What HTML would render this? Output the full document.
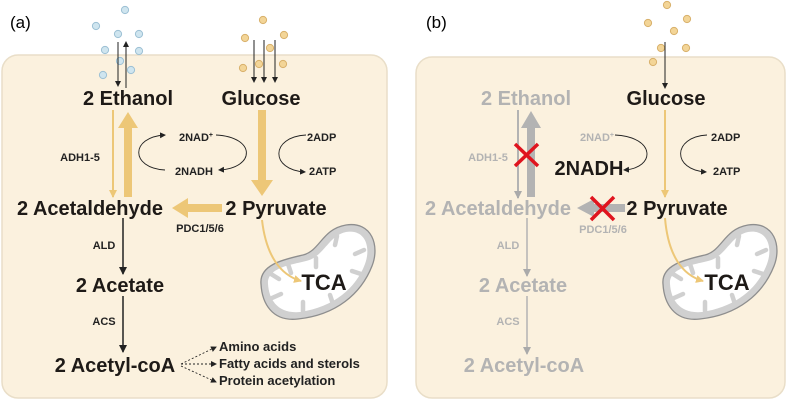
<!DOCTYPE html>
<html><head><meta charset="utf-8"><style>
html,body{margin:0;padding:0;background:#fff;}
svg{display:block;font-family:"Liberation Sans",Arial,sans-serif;}
.big{font-size:20px;font-weight:bold;}
.sm{font-size:11px;font-weight:bold;}
.md{font-size:13px;font-weight:bold;}
</style></head><body>
<svg width="787" height="402" viewBox="0 0 787 402" xmlns="http://www.w3.org/2000/svg">
<defs>
<marker id="ak" markerWidth="6" markerHeight="6" refX="5" refY="3" orient="auto" markerUnits="userSpaceOnUse"><path d="M0,0 L6,3 L0,6 Z" fill="#222"/></marker>
<marker id="ag" markerWidth="8" markerHeight="8" refX="7" refY="4" orient="auto" markerUnits="userSpaceOnUse"><path d="M0,0 L8,4 L0,8 Z" fill="#aaa"/></marker>
<marker id="ay" markerWidth="8" markerHeight="8" refX="7" refY="4" orient="auto" markerUnits="userSpaceOnUse"><path d="M0,0 L8,4 L0,8 Z" fill="#edc777"/></marker>
<marker id="ak2" markerWidth="8" markerHeight="8" refX="7" refY="4" orient="auto" markerUnits="userSpaceOnUse"><path d="M0,0 L8,4 L0,8 Z" fill="#222"/></marker>
<g id="mito">
<path d="M261,284 C259,264 286,259 303,255 C320,251 322,229 346,225 C372,221 380,246 372,266 C361,294 336,315 298,319 C272,322 262,303 261,284 Z" fill="#d0d0d0" stroke="#8e8e8e" stroke-width="1.3"/>
<path d="M268,284 C267,268 290,265 306,261 C324,257 328,236 346,232 C366,229 371,248 365,264 C356,288 334,307 300,312 C278,314 269,300 268,284 Z" fill="#fff"/>
<g stroke="#d0d0d0" stroke-width="4.5" stroke-linecap="round">
<line x1="288" y1="264" x2="291" y2="273"/><line x1="316" y1="258" x2="316" y2="267"/><line x1="337" y1="236" x2="335" y2="245"/><line x1="364" y1="250" x2="355" y2="254"/><line x1="361" y1="274" x2="352" y2="271"/><line x1="333" y1="304" x2="330" y2="295"/><line x1="303" y1="311" x2="303" y2="302"/><line x1="272" y1="298" x2="281" y2="294"/><line x1="271" y1="274" x2="279" y2="279"/>
</g>
</g>
</defs>

<!-- Panel A -->
<text x="10" y="28" font-size="17">(a)</text>
<rect x="2" y="55" width="385" height="343" rx="16" fill="#fbf1de" stroke="#e9dec8" stroke-width="1.5"/>
<g fill="#cfe5ef" stroke="#9cc0d4" stroke-width="1">
<circle cx="125" cy="10" r="3.6"/><circle cx="96" cy="26" r="3.6"/><circle cx="118" cy="34" r="3.6"/><circle cx="139" cy="34" r="3.6"/><circle cx="105" cy="50" r="3.6"/><circle cx="139" cy="51" r="3.6"/><circle cx="120" cy="61" r="3.6"/><circle cx="131" cy="70" r="3.6"/><circle cx="103" cy="75" r="3.6"/>
</g>
<line x1="118" y1="42" x2="118" y2="86" stroke="#222" stroke-width="1" marker-end="url(#ak)"/>
<line x1="126" y1="88" x2="126" y2="42" stroke="#222" stroke-width="1" marker-end="url(#ak)"/>
<g fill="#f3d597" stroke="#d8b06a" stroke-width="1">
<circle cx="263" cy="20" r="3.6"/><circle cx="284" cy="35" r="3.6"/><circle cx="245" cy="38" r="3.6"/><circle cx="270" cy="48" r="3.6"/><circle cx="259" cy="64" r="3.6"/><circle cx="283" cy="64" r="3.6"/><circle cx="243" cy="68" r="3.6"/>
</g>
<g stroke="#222" stroke-width="1"><line x1="254" y1="40" x2="254" y2="82" marker-end="url(#ak)"/><line x1="264" y1="40" x2="264" y2="82" marker-end="url(#ak)"/><line x1="275" y1="40" x2="275" y2="82" marker-end="url(#ak)"/></g>

<text x="128" y="105" class="big" text-anchor="middle" fill="#1e1a17">2 Ethanol</text>
<text x="261" y="105" class="big" text-anchor="middle" fill="#1e1a17">Glucose</text>
<line x1="113" y1="110" x2="113" y2="197" stroke="#edc777" stroke-width="2" marker-end="url(#ay)"/>
<path d="M124,197 L124,128 L118,128 L128,112 L138,128 L132,128 L132,197 Z" fill="#edc777"/>
<text x="80" y="161" class="sm" text-anchor="middle" fill="#222">ADH1-5</text>
<path d="M258,110 L266,110 L266,180 L273,180 L262,196 L251,180 L258,180 Z" fill="#edc777"/>
<path d="M165,170 C130,168 130,137 165,135" fill="none" stroke="#222" stroke-width="0.9" marker-end="url(#ak)"/>
<path d="M216,135 C256,137 256,168 219,170" fill="none" stroke="#222" stroke-width="0.9" marker-end="url(#ak)"/>
<text x="196" y="141" class="sm" text-anchor="middle" fill="#222">2NAD<tspan font-size="7" dy="-4">+</tspan></text>
<text x="194" y="175" class="sm" text-anchor="middle" fill="#222">2NADH</text>
<path d="M306,135 C270,137 270,170 305,172" fill="none" stroke="#222" stroke-width="0.9" marker-end="url(#ak)"/>
<text x="307" y="141" class="sm" fill="#222">2ADP</text>
<text x="309" y="175" class="sm" fill="#222">2ATP</text>

<text x="90" y="215" class="big" text-anchor="middle" fill="#1e1a17">2 Acetaldehyde</text>
<text x="276" y="215" class="big" text-anchor="middle" fill="#1e1a17">2 Pyruvate</text>
<path d="M222,204 L188,204 L188,198 L172,208 L188,218 L188,212 L222,212 Z" fill="#edc777"/>
<text x="200" y="232" class="sm" text-anchor="middle" fill="#222">PDC1/5/6</text>
<use href="#mito"/>
<path d="M262,220 C266,255 280,275 301,281" fill="none" stroke="#edc777" stroke-width="2" marker-end="url(#ay)"/>
<text x="324" y="290" font-size="22" font-weight="bold" text-anchor="middle" fill="#1e1a17">TCA</text>

<text x="104" y="249" class="sm" text-anchor="middle" fill="#222">ALD</text>
<line x1="123" y1="218" x2="123" y2="274" stroke="#222" stroke-width="1.5" marker-end="url(#ak2)"/>
<text x="120" y="292" class="big" text-anchor="middle" fill="#1e1a17">2 Acetate</text>
<text x="104" y="325" class="sm" text-anchor="middle" fill="#222">ACS</text>
<line x1="123" y1="296" x2="123" y2="352" stroke="#222" stroke-width="1.5" marker-end="url(#ak2)"/>
<text x="115" y="372" class="big" text-anchor="middle" fill="#1e1a17">2 Acetyl-coA</text>
<g stroke="#222" stroke-width="0.9" stroke-dasharray="2,2">
<line x1="181" y1="364" x2="216" y2="347" marker-end="url(#ak)"/>
<line x1="181" y1="364" x2="216" y2="364" marker-end="url(#ak)"/>
<line x1="181" y1="366" x2="216" y2="382" marker-end="url(#ak)"/>
</g>
<text x="219" y="351" class="md" fill="#222">Amino acids</text>
<text x="219" y="368" class="md" fill="#222">Fatty acids and sterols</text>
<text x="219" y="385" class="md" fill="#222">Protein acetylation</text>

<!-- Panel B -->
<text x="426" y="28" font-size="17">(b)</text>
<rect x="416" y="57" width="369" height="341" rx="16" fill="#fbf1de" stroke="#e9dec8" stroke-width="1.5"/>
<g fill="#f3d597" stroke="#d8b06a" stroke-width="1">
<circle cx="667" cy="5" r="3.6"/><circle cx="687" cy="19" r="3.6"/><circle cx="648" cy="23" r="3.6"/><circle cx="674" cy="31" r="3.6"/><circle cx="661" cy="48" r="3.6"/><circle cx="686" cy="48" r="3.6"/><circle cx="653" cy="62" r="3.6"/>
</g>
<line x1="665" y1="42" x2="665" y2="88" stroke="#222" stroke-width="1" marker-end="url(#ak)"/>
<text x="526" y="105" class="big" text-anchor="middle" fill="#b3b3b3">2 Ethanol</text>
<text x="666" y="105" class="big" text-anchor="middle" fill="#1e1a17">Glucose</text>
<line x1="518" y1="110" x2="518" y2="198" stroke="#b3b3b3" stroke-width="2" marker-end="url(#ag)"/>
<path d="M527,197 L527,128 L521,128 L531,111 L541,128 L535,128 L535,197 Z" fill="#b3b3b3"/>
<text x="488" y="161" class="sm" text-anchor="middle" fill="#b3b3b3">ADH1-5</text>
<g stroke="#e0141e" stroke-width="3.5"><line x1="515" y1="144" x2="538" y2="166"/><line x1="538" y1="144" x2="515" y2="166"/></g>
<line x1="665" y1="110" x2="665" y2="197" stroke="#edc777" stroke-width="2" marker-end="url(#ay)"/>
<path d="M615,135 C656,137 656,168 624,170" fill="none" stroke="#222" stroke-width="0.9" marker-end="url(#ak)"/>
<text x="597" y="141" class="sm" text-anchor="middle" fill="#b3b3b3">2NAD<tspan font-size="7" dy="-4">+</tspan></text>
<text x="589" y="175" class="big" text-anchor="middle" fill="#1e1a17">2NADH</text>
<path d="M707,135 C672,137 672,170 706,172" fill="none" stroke="#222" stroke-width="0.9" marker-end="url(#ak)"/>
<text x="711" y="141" class="sm" fill="#222">2ADP</text>
<text x="713" y="175" class="sm" fill="#222">2ATP</text>

<text x="498" y="215" class="big" text-anchor="middle" fill="#b3b3b3">2 Acetaldehyde</text>
<text x="677" y="215" class="big" text-anchor="middle" fill="#1e1a17">2 Pyruvate</text>
<path d="M625,204 L594,204 L594,199 L577,208 L594,217 L594,212 L625,212 Z" fill="#b3b3b3"/>
<g stroke="#e0141e" stroke-width="3.5"><line x1="591" y1="197" x2="614" y2="220"/><line x1="614" y1="197" x2="591" y2="220"/></g>
<text x="603" y="233" class="sm" text-anchor="middle" fill="#b3b3b3">PDC1/5/6</text>
<use href="#mito" transform="translate(402,0)"/>
<path d="M665,218 C668,255 682,275 703,281" fill="none" stroke="#edc777" stroke-width="2" marker-end="url(#ay)"/>
<text x="727" y="290" font-size="22" font-weight="bold" text-anchor="middle" fill="#1e1a17">TCA</text>

<text x="508" y="249" class="sm" text-anchor="middle" fill="#b3b3b3">ALD</text>
<line x1="527" y1="218" x2="527" y2="276" stroke="#b3b3b3" stroke-width="1.5" marker-end="url(#ag)"/>
<text x="523" y="292" class="big" text-anchor="middle" fill="#b3b3b3">2 Acetate</text>
<text x="508" y="325" class="sm" text-anchor="middle" fill="#b3b3b3">ACS</text>
<line x1="527" y1="296" x2="527" y2="354" stroke="#b3b3b3" stroke-width="1.5" marker-end="url(#ag)"/>
<text x="524" y="372" class="big" text-anchor="middle" fill="#b3b3b3">2 Acetyl-coA</text>
</svg>
</body></html>
